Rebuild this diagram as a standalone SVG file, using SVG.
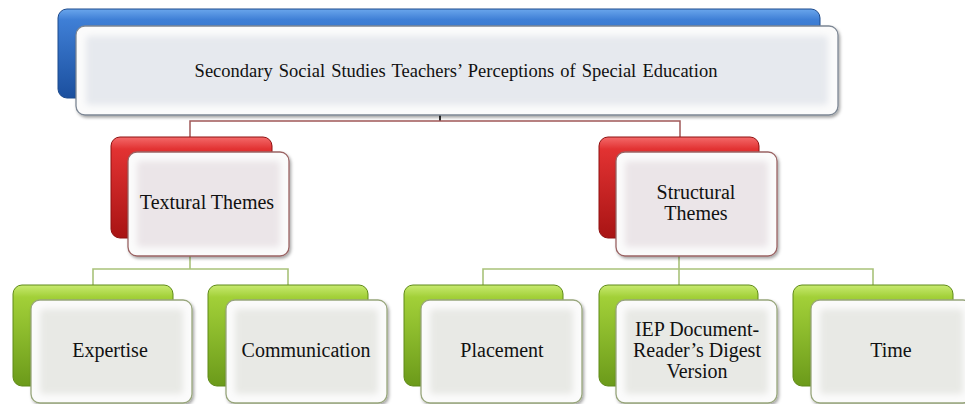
<svg xmlns="http://www.w3.org/2000/svg" width="965" height="404" viewBox="0 0 965 404">
<defs>
<linearGradient id="gBlue" x1="0" y1="0" x2="0" y2="1">
<stop offset="0" stop-color="#6aa6ec"/><stop offset="0.12" stop-color="#3f7fd6"/><stop offset="1" stop-color="#1b4f9e"/>
</linearGradient>
<linearGradient id="gRed" x1="0" y1="0" x2="0" y2="1">
<stop offset="0" stop-color="#f46a6a"/><stop offset="0.12" stop-color="#e23232"/><stop offset="1" stop-color="#a81414"/>
</linearGradient>
<linearGradient id="gGreen" x1="0" y1="0" x2="0" y2="1">
<stop offset="0" stop-color="#c8ea70"/><stop offset="0.12" stop-color="#a2d038"/><stop offset="1" stop-color="#6b9a1a"/>
</linearGradient>
<filter id="shadow" x="-10%" y="-10%" width="130%" height="130%">
<feDropShadow dx="1.5" dy="2" stdDeviation="1.6" flood-color="#000" flood-opacity="0.35"/>
</filter>
<filter id="soft" x="-10%" y="-10%" width="120%" height="120%">
<feGaussianBlur stdDeviation="3"/>
</filter>
<style>
.back{stroke-width:1}
.front{fill:#fbfbfb;stroke-width:1.3;filter:url(#shadow)}
.ftop{stroke:#7d8794}
.fred{stroke:#9a6464}
.fgreen{stroke:#98a67c}
.inner{filter:url(#soft)}
.itop{fill:#e6e9ee}
.ired{fill:#ebe5e8}
.igreen{fill:#e8e9e5}
text{fill:#111;text-anchor:middle}
.t20{font-size:20px}
.ctop{stroke:#a05858;stroke-width:1.5;fill:none}
.cgreen{stroke:#a9c27a;stroke-width:1.6;fill:none}
</style>
</defs>

<g id="connectors">
<line x1="440" y1="114" x2="440" y2="121" stroke="#333" stroke-width="2"/>
<path class="ctop" d="M190,137 V121 H680 V137"/>
<path class="cgreen" d="M190,256 V269"/>
<path class="cgreen" d="M93,285 V269 H288 V285"/>
<path class="cgreen" d="M679,256 V285"/>
<path class="cgreen" d="M483,285 V269 H873 V285"/>
</g>

<g font-family="'Liberation Serif', 'DejaVu Serif', serif">
<g id="node-root">
<rect class="back" x="58" y="9" width="762" height="89" rx="9" fill="url(#gBlue)" stroke="#1d4a8c"/>
<rect class="front ftop" x="76" y="26" width="762" height="89" rx="9"/>
<rect class="inner itop" x="86" y="36" width="742" height="69" rx="4"/>
<text x="456" y="77" font-size="18.5" word-spacing="1.5">Secondary Social Studies Teachers’ Perceptions of Special Education</text>
</g>

<g id="node-textural">
<rect class="back" x="111" y="137" width="161" height="101" rx="9" fill="url(#gRed)" stroke="#8e1010"/>
<rect class="front fred" x="128" y="152" width="161" height="104" rx="9"/>
<rect class="inner ired" x="137" y="161" width="143" height="86" rx="4"/>
<text class="t20" x="207" y="209">Textural Themes</text>
</g>

<g id="node-structural">
<rect class="back" x="599" y="137" width="160" height="101" rx="9" fill="url(#gRed)" stroke="#8e1010"/>
<rect class="front fred" x="616" y="152" width="161" height="104" rx="9"/>
<rect class="inner ired" x="625" y="161" width="143" height="86" rx="4"/>
<text class="t20" x="696" y="199">Structural</text>
<text class="t20" x="696" y="220">Themes</text>
</g>

<g id="node-expertise">
<rect class="back" x="13" y="285" width="160" height="101" rx="9" fill="url(#gGreen)" stroke="#5f8a18"/>
<rect class="front fgreen" x="31" y="300" width="161" height="103" rx="9"/>
<rect class="inner igreen" x="40" y="309" width="143" height="85" rx="4"/>
<text class="t20" x="110" y="357">Expertise</text>
</g>

<g id="node-communication">
<rect class="back" x="208" y="285" width="160" height="101" rx="9" fill="url(#gGreen)" stroke="#5f8a18"/>
<rect class="front fgreen" x="226" y="300" width="161" height="103" rx="9"/>
<rect class="inner igreen" x="235" y="309" width="143" height="85" rx="4"/>
<text class="t20" x="306" y="357">Communication</text>
</g>

<g id="node-placement">
<rect class="back" x="404" y="285" width="159" height="101" rx="9" fill="url(#gGreen)" stroke="#5f8a18"/>
<rect class="front fgreen" x="421" y="300" width="161" height="103" rx="9"/>
<rect class="inner igreen" x="430" y="309" width="143" height="85" rx="4"/>
<text class="t20" x="502" y="357">Placement</text>
</g>

<g id="node-iep">
<rect class="back" x="599" y="285" width="159" height="101" rx="9" fill="url(#gGreen)" stroke="#5f8a18"/>
<rect class="front fgreen" x="616" y="300" width="161" height="103" rx="9"/>
<rect class="inner igreen" x="625" y="309" width="143" height="85" rx="4"/>
<text class="t20" x="697" y="336">IEP Document-</text>
<text class="t20" x="697" y="357">Reader’s Digest</text>
<text class="t20" x="697" y="378">Version</text>
</g>

<g id="node-time">
<rect class="back" x="793" y="285" width="160" height="101" rx="9" fill="url(#gGreen)" stroke="#5f8a18"/>
<rect class="front fgreen" x="811" y="300" width="161" height="103" rx="9"/>
<rect class="inner igreen" x="820" y="309" width="143" height="85" rx="4"/>
<text class="t20" x="891" y="357">Time</text>
</g>
</g>
</svg>
